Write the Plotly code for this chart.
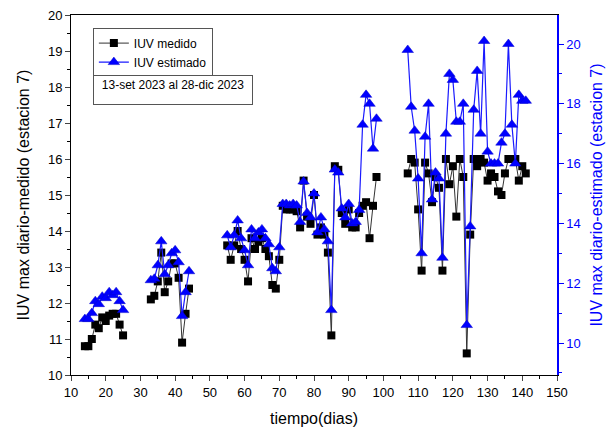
import plotly.graph_objects as go

# ---- data ----
days_c1 = [14, 15, 16, 17, 18, 19, 20, 21, 22, 23, 24, 25]
med_c1 = [10.8, 10.8, 11.0, 11.4, 11.3, 11.6, 11.5, 11.65, 11.7, 11.7, 11.4, 11.1]
est_c1 = [10.8, 10.8, 11.0, 11.4, 11.3, 11.55, 11.5, 11.7, 11.6, 11.7, 11.4, 11.1]

days_c2 = [33, 34, 35, 36, 37, 38, 39, 40, 41, 42, 43, 44]
med_c2 = [12.1, 12.2, 12.6, 13.4, 12.3, 12.6, 13.1, 13.1, 12.7, 10.9, 11.7, 12.4]
est_c2 = [12.1, 12.15, 12.6, 13.4, 12.3, 12.6, 13.0, 13.1, 12.7, 10.9, 11.7, 12.4]

days_c3 = [55, 56, 57, 58, 59, 60, 61, 62, 63, 64, 65, 66, 67, 68, 69, 70,
           71, 72, 73, 74, 75, 76, 77, 78, 79, 80, 81, 82, 83, 84, 85,
           86, 87, 88, 89, 90, 91, 92, 93, 94, 95, 96, 97, 98]
med_c3 = [13.6, 13.2, 13.6, 14.0, 13.5, 13.2, 12.6, 13.8, 13.5, 13.7, 13.8, 13.5, 13.3, 12.5, 12.4, 13.2,
          14.7, 14.6, 14.6, 14.6, 14.55, 14.1, 15.4, 14.4, 14.2, 15.0, 13.9, 14.1, 13.9, 13.4, 11.1,
          15.8, 15.7, 14.5, 14.2, 14.6, 14.1, 14.1, 14.5, 14.7, 14.8, 13.8, 14.7, 15.5]
est_c3 = [13.6, 13.2, 13.6, 14.1, 13.5, 13.1, 12.6, 13.8, 13.5, 13.7, 13.8, 13.5, 13.3, 12.5, 12.4, 13.2,
          14.65, 14.65, 14.6, 14.65, 14.6, 14.05, 15.4, 14.35, 14.2, 15.0, 13.7, 14.2, 13.8, 13.4, 11.1,
          15.8, 15.7, 14.5, 14.2, 14.65, 14.0, 14.05, 14.45, 17.3, 18.3, 18.0, 16.5, 17.5]

days_c4 = [107, 108, 109, 110, 111, 112, 113, 114, 115, 116, 117, 118, 119, 120, 121, 122, 123, 124,
           125, 126, 127, 128, 129, 130, 131, 132, 133, 134, 135, 136, 137, 138, 139, 140, 141]
med_c4 = [15.6, 16.0, 15.9, 14.6, 12.9, 15.9, 15.6, 14.8, 15.5, 15.2, 12.9, 16.0, 15.3, 15.8, 14.4, 16.0, 15.5, 10.6,
          13.9, 16.0, 15.8, 16.0, 15.9, 15.4, 15.6, 15.5, 15.1, 15.0, 15.6, 16.0, 16.0, 16.0, 15.4, 15.8, 15.6]
est_c4 = [19.8, 17.9, 17.1, 15.5, 13.0, 16.9, 18.0, 14.8, 15.7, 15.5, 12.85, 17.0, 19.0, 18.8, 17.4, 17.4, 18.0, 10.6,
          13.9, 17.8, 19.1, 17.0, 20.1, 16.4, 16.0, 16.0, 16.0, 16.7, 17.0, 20.0, 17.3, 16.0, 18.3, 18.1, 18.1]

x_ticks = [10, 20, 30, 40, 50, 60, 70, 80, 90, 100, 110, 120, 130, 140, 150]
period_label = "13-set 2023 al 28-dic 2023"


def joined(parts):
    out = []
    for i, p in enumerate(parts):
        if i:
            out.append(None)
        out.extend(p)
    return out


days = joined([days_c1, days_c2, days_c3, days_c4])
med = joined([med_c1, med_c2, med_c3, med_c4])
est = joined([est_c1, est_c2, est_c3, est_c4])

FONT = "Liberation Sans, Arial, sans-serif"

fig = go.Figure()
fig.add_trace(go.Scatter(
    x=days, y=med, name="IUV medido", mode="lines+markers",
    line=dict(color="#333333", width=1),
    marker=dict(symbol="square", size=8, color="black"),
    connectgaps=False, yaxis="y"))
fig.add_trace(go.Scatter(
    x=days, y=est, name="IUV estimado", mode="lines+markers",
    line=dict(color="#1a1aff", width=1.2),
    marker=dict(symbol="triangle-up", size=10, color="#0000ff",
                line=dict(color="#0000cc", width=0.5)),
    connectgaps=False, yaxis="y2"))

fig.update_layout(
    width=610, height=437,
    margin=dict(l=71, r=53, t=15, b=62, autoexpand=False),
    paper_bgcolor="white", plot_bgcolor="white",
    font=dict(family=FONT, size=13, color="black"),
    showlegend=True,
    legend=dict(x=0.045, y=0.965, xanchor="left", yanchor="top",
                bgcolor="white", bordercolor="#555555", borderwidth=1,
                font=dict(size=12), tracegroupgap=0, itemwidth=30),
    xaxis=dict(range=[10, 150], tickvals=x_ticks, ticks="outside", ticklen=5,
               showline=True, linecolor="black", linewidth=1, mirror=True,
               showgrid=False, zeroline=False, automargin=False,
               minor=dict(dtick=5, ticks="outside", ticklen=3, tickcolor="black"),
               title=dict(text="tiempo(dias)", font=dict(size=16), standoff=14)),
    xaxis2=dict(range=[10, 150], overlaying="x", side="top", anchor="y", matches="x",
                tickvals=x_ticks, ticks="inside", ticklen=5, showticklabels=False,
                showline=False, showgrid=False, zeroline=False, automargin=False,
                minor=dict(dtick=5, ticks="inside", ticklen=3, tickcolor="black")),
    yaxis=dict(range=[10, 20], dtick=1, ticks="outside", ticklen=5,
               showline=True, linecolor="black", linewidth=1,
               showgrid=False, zeroline=False, automargin=False,
               minor=dict(dtick=0.5, ticks="outside", ticklen=3, tickcolor="black"),
               title=dict(text="IUV max diario-medido (estacion 7)", font=dict(size=16), standoff=14)),
    yaxis2=dict(range=[8.93, 20.97], dtick=2, tick0=10, overlaying="y", side="right", anchor="x",
                ticks="outside", ticklen=5, tickcolor="#0000ff",
                showline=True, linecolor="#0000ff", linewidth=1.5,
                showgrid=False, zeroline=False, automargin=False,
                tickfont=dict(color="#0000ff"),
                minor=dict(dtick=1, ticks="outside", ticklen=3, tickcolor="#0000ff"),
                title=dict(text="IUV max diario-estimado (estacion 7)",
                           font=dict(size=16, color="#0000ff"), standoff=11)),
    annotations=[dict(
        text=period_label, xref="paper", yref="paper", x=0.045, y=0.834,
        xanchor="left", yanchor="top", showarrow=False, align="center", valign="top",
        width=154, height=24, bordercolor="#555555", borderwidth=1, borderpad=2,
        bgcolor="white", font=dict(size=12))],
)

fig.write_html("out.html")
